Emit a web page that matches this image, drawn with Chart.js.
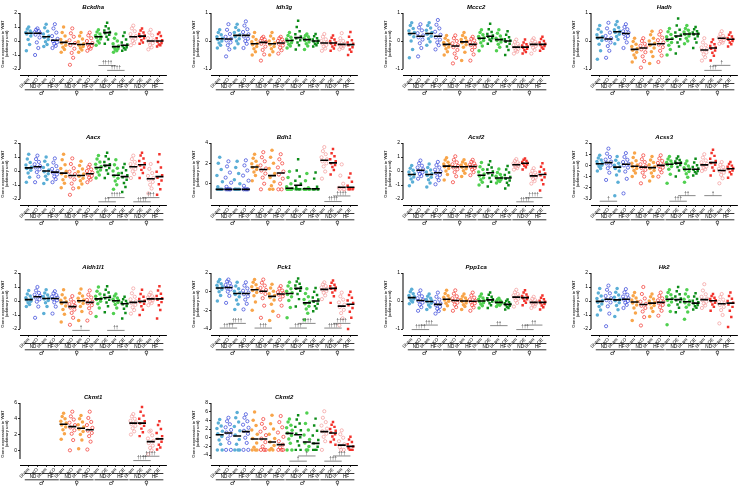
<!DOCTYPE html>
<html>
<head>
<meta charset="utf-8">
<script src="https://cdn.jsdelivr.net/npm/chart.js@4.4.1/dist/chart.umd.min.js"></script>
<style>
  body { margin: 0; background: #fff; width: 743px; height: 487px; overflow: hidden; position: relative; }
  .panel { position: absolute; width: 172px; height: 97px; }
</style>
</head>
<body>
<script>
// Group labels (16 groups per panel)
const tickLabels = ['Sham','KO','Sham','KO','Sham','KO','Sham','KO','Sham','OE','Sham','OE','Sham','OE','Sham','OE'];
const dietLabels = ['ND','HF','ND','HF','ND','HF','ND','HF'];
const sexLabels = ['♂','♀','♂','♀'];

const genes = ['Bckdha','Idh3g','Mccc2','Hadh','Aacx','Bdh1','Acsf2','Acss3','Aldh1l1','Pck1','Ppp1ca','Hk2','Ckmt1','Ckmt2'];
const yTop    = [2, 1, 1, 1, 2, 4, 2, 2, 2, 2, 1, 2, 6, 8];
const yBottom = [-2, -1, -1, -1, -2, -1.5, -2, -3, -2, -4, -1, -2, -1.1, -4.9];
const yStep   = [1, 1, 1, 1, 1, 2, 1, 1, 1, 2, 1, 1, 2, 2];

// ---- Bckdha
const bckdhaMean = [0.55,0.55,0.3,0.05,-0.1,-0.2,-0.25,-0.2,0.3,0.6,-0.4,-0.3,0.3,0.35,0,0];
const bckdhaPts = [
  [1.0,0.85,0.72,0.62,0.57,0.5,0.35,0.1,-0.25,-0.7],
  [0.9,0.8,0.7,0.62,0.55,0.45,0.25,-0.1,-0.5,-1.0],
  [1.2,0.95,0.7,0.5,0.35,0.25,0.1,-0.05,-0.25,-0.4],
  [1.2,0.9,0.6,0.35,0.15,0.0,-0.1,-0.2,-0.35,-0.5],
  [1.0,0.6,0.35,0.1,-0.05,-0.15,-0.3,-0.45,-0.6,-0.8],
  [0.9,0.55,0.3,0.05,-0.15,-0.3,-0.55,-0.85,-1.2,-1.7],
  [0.6,0.35,0.15,-0.05,-0.2,-0.3,-0.4,-0.5,-0.65,-0.8],
  [0.6,0.4,0.2,0.0,-0.15,-0.25,-0.35,-0.45,-0.55,-0.7],
  [0.8,0.65,0.5,0.4,0.3,0.25,0.15,0.0,-0.15,-0.3],
  [1.3,1.05,0.9,0.75,0.65,0.55,0.45,0.3,0.1,-0.2],
  [0.5,0.2,0.0,-0.2,-0.35,-0.45,-0.55,-0.6,-0.7,-0.8],
  [0.6,0.35,0.1,-0.1,-0.25,-0.35,-0.45,-0.5,-0.6,-0.7],
  [1.1,0.9,0.7,0.5,0.35,0.25,0.15,0.0,-0.15,-0.3],
  [0.9,0.75,0.6,0.5,0.4,0.3,0.2,0.05,-0.1,-0.2],
  [0.8,0.6,0.4,0.2,0.05,-0.05,-0.15,-0.3,-0.45,-0.6],
  [0.6,0.5,0.35,0.2,0.05,-0.05,-0.15,-0.25,-0.3,-0.4]
];
const bckdhaSig = [[9,11,-1.75,'††††'],[10,12,-2.1,'††††']];

// ---- Idh3g
const idh3gMean = [0.08,0.07,0.2,0.2,-0.1,-0.05,-0.1,-0.07,0.02,0.12,0.05,0,-0.07,-0.07,-0.12,-0.13];
const idh3gPts = [
  [0.4,0.3,0.22,0.15,0.1,0.05,0.0,-0.07,-0.15,-0.25],
  [0.6,0.4,0.25,0.15,0.08,0.02,-0.05,-0.15,-0.3,-0.55],
  [0.6,0.48,0.38,0.3,0.22,0.15,0.08,0.0,-0.1,-0.25],
  [0.7,0.55,0.42,0.32,0.24,0.16,0.08,0.0,-0.1,-0.25],
  [0.3,0.15,0.05,-0.03,-0.08,-0.13,-0.2,-0.28,-0.38,-0.5],
  [0.15,0.1,0.05,0.0,-0.04,-0.1,-0.2,-0.32,-0.48,-0.7],
  [0.3,0.18,0.08,0.0,-0.07,-0.13,-0.2,-0.28,-0.38,-0.5],
  [0.15,0.1,0.05,0.0,-0.05,-0.1,-0.16,-0.24,-0.33,-0.45],
  [0.3,0.2,0.13,0.07,0.03,-0.01,-0.06,-0.12,-0.18,-0.25],
  [0.72,0.5,0.35,0.24,0.16,0.1,0.03,-0.05,-0.15,-0.3],
  [0.25,0.2,0.15,0.1,0.06,0.02,-0.04,-0.1,-0.18,-0.3],
  [0.25,0.17,0.1,0.05,0.01,-0.02,-0.06,-0.1,-0.15,-0.2],
  [0.25,0.15,0.06,0.0,-0.05,-0.09,-0.14,-0.2,-0.27,-0.35],
  [0.2,0.12,0.05,0.0,-0.05,-0.09,-0.14,-0.2,-0.27,-0.35],
  [0.28,0.1,0.0,-0.05,-0.1,-0.13,-0.17,-0.21,-0.25,-0.3],
  [0.32,0.15,0.03,-0.05,-0.1,-0.15,-0.22,-0.3,-0.38,-0.5]
];
const idh3gSig = [];

// ---- Mccc2
const mccc2Mean = [0.27,0.17,0.27,0.17,-0.12,-0.18,-0.03,-0.12,0.1,0.17,0.05,0,-0.22,-0.22,-0.12,-0.12];
const mccc2Pts = [
  [0.65,0.55,0.45,0.37,0.3,0.24,0.15,0.0,-0.3,-0.6],
  [0.6,0.48,0.38,0.28,0.2,0.13,0.05,-0.08,-0.25,-0.55],
  [0.65,0.55,0.46,0.38,0.3,0.24,0.17,0.08,-0.03,-0.15],
  [0.75,0.58,0.45,0.33,0.22,0.13,0.05,-0.05,-0.15,-0.3],
  [0.2,0.1,0.02,-0.05,-0.1,-0.15,-0.21,-0.28,-0.38,-0.5],
  [0.2,0.1,0.0,-0.08,-0.15,-0.22,-0.32,-0.45,-0.6,-0.8],
  [0.3,0.2,0.12,0.05,0.0,-0.06,-0.13,-0.22,-0.4,-0.7],
  [0.15,0.08,0.02,-0.04,-0.1,-0.15,-0.22,-0.32,-0.48,-0.7],
  [0.4,0.3,0.22,0.16,0.12,0.08,0.02,-0.06,-0.18,-0.35],
  [0.62,0.42,0.32,0.25,0.2,0.15,0.1,0.05,0.0,-0.1],
  [0.4,0.28,0.18,0.1,0.06,0.02,-0.04,-0.12,-0.22,-0.35],
  [0.35,0.22,0.13,0.06,0.02,-0.03,-0.1,-0.2,-0.32,-0.5],
  [0.05,-0.03,-0.1,-0.15,-0.2,-0.24,-0.28,-0.33,-0.38,-0.45],
  [0.05,-0.05,-0.12,-0.16,-0.2,-0.24,-0.28,-0.33,-0.39,-0.45],
  [0.1,0.03,-0.03,-0.08,-0.11,-0.14,-0.18,-0.24,-0.32,-0.45],
  [0.15,0.07,0.0,-0.05,-0.1,-0.14,-0.18,-0.23,-0.28,-0.35]
];
const mccc2Sig = [];

// ---- Hadh
const hadhMean = [0.12,0.07,0.33,0.27,-0.3,-0.25,-0.12,-0.1,0.06,0.18,0.25,0.25,-0.32,-0.25,0.1,0.06];
const hadhPts = [
  [0.55,0.42,0.32,0.22,0.15,0.1,0.02,-0.12,-0.35,-0.65],
  [0.65,0.45,0.3,0.18,0.1,0.04,-0.05,-0.18,-0.35,-0.6],
  [0.7,0.58,0.48,0.4,0.35,0.3,0.24,0.16,0.05,-0.1],
  [0.6,0.5,0.42,0.35,0.3,0.25,0.18,0.1,-0.05,-0.25],
  [0.1,-0.02,-0.12,-0.2,-0.27,-0.33,-0.4,-0.5,-0.6,-0.75],
  [0.1,0.0,-0.1,-0.17,-0.23,-0.3,-0.4,-0.55,-0.72,-0.95],
  [0.35,0.22,0.1,0.0,-0.08,-0.15,-0.25,-0.38,-0.55,-0.8],
  [0.35,0.23,0.12,0.03,-0.05,-0.13,-0.22,-0.35,-0.52,-0.75],
  [0.45,0.33,0.23,0.15,0.09,0.03,-0.05,-0.15,-0.3,-0.5],
  [0.8,0.55,0.4,0.3,0.22,0.15,0.06,-0.05,-0.2,-0.45],
  [0.55,0.45,0.38,0.32,0.27,0.23,0.18,0.1,0.0,-0.1],
  [0.5,0.42,0.35,0.3,0.27,0.23,0.17,0.08,-0.05,-0.25],
  [0.1,-0.05,-0.15,-0.23,-0.29,-0.35,-0.41,-0.48,-0.58,-0.7],
  [0.05,-0.04,-0.12,-0.18,-0.23,-0.28,-0.34,-0.42,-0.53,-0.7],
  [0.35,0.25,0.18,0.13,0.1,0.07,0.03,-0.02,-0.06,-0.1],
  [0.3,0.22,0.16,0.11,0.07,0.04,0.0,-0.05,-0.12,-0.2]
];
const hadhSig = [[13,15,-1.05,'†††'],[14,16,-0.87,'†']];

// ---- Aacx
const aacxMean = [0.22,0.3,0,-0.08,-0.15,-0.32,-0.32,-0.2,0.25,0.4,-0.3,-0.4,0.3,0.45,-0.55,-0.4];
const aacxPts = [
  [1.2,0.85,0.6,0.42,0.28,0.18,0.05,-0.15,-0.45,-0.8],
  [1.1,0.85,0.65,0.48,0.35,0.25,0.12,-0.08,-0.4,-0.8],
  [1.0,0.7,0.45,0.25,0.08,-0.05,-0.2,-0.38,-0.6,-0.9],
  [0.9,0.6,0.35,0.15,0.0,-0.12,-0.25,-0.4,-0.58,-0.8],
  [1.2,0.8,0.45,0.18,-0.02,-0.2,-0.4,-0.62,-0.88,-1.2],
  [0.9,0.5,0.2,-0.05,-0.22,-0.4,-0.6,-0.9,-1.25,-1.7],
  [0.7,0.4,0.15,-0.05,-0.22,-0.38,-0.52,-0.7,-0.92,-1.2],
  [0.45,0.28,0.12,0.0,-0.12,-0.24,-0.35,-0.48,-0.62,-0.8],
  [1.1,0.85,0.65,0.48,0.33,0.2,0.08,-0.08,-0.28,-0.5],
  [1.3,1.05,0.85,0.65,0.48,0.35,0.22,0.05,-0.2,-0.5],
  [0.8,0.45,0.2,0.0,-0.18,-0.35,-0.52,-0.72,-0.98,-1.3],
  [0.5,0.25,0.05,-0.15,-0.3,-0.45,-0.62,-0.85,-1.15,-1.5],
  [1.1,0.85,0.65,0.5,0.38,0.26,0.14,-0.02,-0.22,-0.5],
  [1.3,1.1,0.9,0.72,0.55,0.4,0.25,0.08,-0.15,-0.5],
  [0.5,0.15,-0.15,-0.35,-0.5,-0.62,-0.78,-0.98,-1.25,-1.6],
  [1.2,0.65,0.25,-0.05,-0.3,-0.48,-0.68,-0.95,-1.3,-1.7]
];
const aacxSig = [[9,11,-2.2,'††'],[10,12,-1.9,'††††'],[13,15,-2.2,'††††'],[14,16,-1.9,'†††']];

// ---- Bdh1
const bdh1Mean = [-0.55,-0.55,-0.55,-0.55,1.65,1.4,0.8,1.05,-0.45,-0.15,-0.5,-0.5,2.3,2.05,-0.35,-0.35];
const bdh1Pts = [
  [2.6,2.0,1.4,0.8,0.2,-0.3,-0.55,-0.55,-0.55,-0.55],
  [2.2,1.7,1.1,0.6,0.1,-0.3,-0.55,-0.55,-0.55,-0.55],
  [2.2,1.6,1.0,0.4,0.0,-0.55,-0.55,-0.55,-0.55,-0.55],
  [2.3,1.8,1.3,0.8,0.3,-0.2,-0.55,-0.55,-0.55,-0.55],
  [2.9,2.5,2.2,1.95,1.75,1.6,1.4,1.15,0.8,0.3],
  [3.1,2.6,2.2,1.8,1.5,1.3,1.0,0.6,0.0,-0.55],
  [3.3,2.6,2.0,1.5,1.0,0.6,0.2,-0.2,-0.55,-0.55],
  [2.9,2.4,2.0,1.6,1.2,0.9,0.5,0.0,-0.55,-0.55],
  [1.2,0.6,0.0,-0.3,-0.5,-0.55,-0.55,-0.55,-0.55,-0.55],
  [2.4,1.3,0.7,0.3,0.0,-0.3,-0.55,-0.55,-0.55,-0.55],
  [1.0,0.3,-0.4,-0.55,-0.55,-0.55,-0.55,-0.55],
  [1.1,0.5,-0.3,-0.55,-0.55,-0.55,-0.55,-0.55],
  [3.6,3.2,2.9,2.6,2.4,2.2,2.0,1.7,1.2,0.5],
  [3.4,3.0,2.7,2.4,2.2,2.0,1.85,1.65,1.35,0.9],
  [1.9,0.8,0.0,-0.4,-0.55,-0.55,-0.55],
  [1.0,0.6,0.2,-0.2,-0.45,-0.55,-0.55,-0.55]
];
const bdh1Sig = [[14,16,-1.2,'††††'],[13,15,-1.75,'††††']];

// ---- Acsf2
const acsf2Mean = [-0.25,0.05,-0.25,-0.12,0.35,0.3,0.3,0.32,-0.3,-0.12,-0.5,-0.5,0.45,0.55,-0.35,-0.25];
const acsf2Pts = [
  [0.4,0.2,0.05,-0.08,-0.2,-0.3,-0.42,-0.58,-0.78,-1.05],
  [0.75,0.55,0.38,0.25,0.12,0.0,-0.1,-0.22,-0.36,-0.55],
  [0.5,0.25,0.08,-0.08,-0.2,-0.32,-0.45,-0.62,-0.85,-1.15],
  [0.65,0.42,0.25,0.1,-0.03,-0.15,-0.28,-0.45,-0.66,-0.95],
  [0.95,0.78,0.62,0.5,0.4,0.3,0.18,0.0,-0.25,-0.65],
  [1.05,0.8,0.62,0.48,0.36,0.25,0.12,-0.08,-0.38,-0.8],
  [0.8,0.65,0.52,0.42,0.34,0.26,0.16,0.02,-0.16,-0.4],
  [0.8,0.66,0.54,0.45,0.37,0.3,0.22,0.1,-0.08,-0.3],
  [0.6,0.3,0.1,-0.08,-0.22,-0.35,-0.48,-0.62,-0.8,-1.0],
  [0.7,0.45,0.25,0.1,-0.04,-0.16,-0.3,-0.5,-0.76,-1.1],
  [0.15,-0.1,-0.25,-0.38,-0.46,-0.53,-0.6,-0.67,-0.75,-0.85],
  [0.35,0.1,-0.1,-0.28,-0.42,-0.55,-0.68,-0.84,-1.02,-1.25],
  [0.85,0.72,0.62,0.54,0.48,0.42,0.36,0.28,0.2,0.1],
  [0.9,0.8,0.72,0.64,0.58,0.52,0.46,0.38,0.26,0.1],
  [0.2,0.02,-0.12,-0.22,-0.3,-0.38,-0.47,-0.58,-0.72,-0.9],
  [0.55,0.3,0.1,-0.05,-0.18,-0.3,-0.45,-0.65,-0.95,-1.4]
];
const acsf2Sig = [[13,15,-2.2,'††††'],[14,16,-1.9,'††††']];

// ---- Acss3
const acss3Mean = [0.15,0.25,-0.15,0.1,-0.07,-0.15,-0.2,0,0.1,0.2,-0.35,-0.35,0.05,0.25,-0.45,-0.3];
const acss3Pts = [
  [0.9,0.65,0.48,0.34,0.22,0.12,0.02,-0.1,-0.28,-0.5],
  [1.5,1.05,0.75,0.52,0.34,0.18,0.0,-0.25,-0.65,-1.3],
  [0.8,0.45,0.2,0.02,-0.12,-0.28,-0.5,-0.85,-1.5,-2.7],
  [1.1,0.75,0.5,0.3,0.14,0.0,-0.2,-0.55,-1.2,-2.5],
  [1.1,0.7,0.42,0.2,0.03,-0.12,-0.28,-0.45,-0.68,-1.0],
  [0.9,0.55,0.3,0.1,-0.08,-0.22,-0.4,-0.65,-1.0,-1.6],
  [0.8,0.48,0.25,0.05,-0.12,-0.28,-0.45,-0.68,-0.98,-1.4],
  [0.9,0.62,0.4,0.22,0.07,-0.06,-0.2,-0.38,-0.62,-1.0],
  [0.8,0.58,0.4,0.26,0.15,0.05,-0.1,-0.35,-0.8,-1.6],
  [0.8,0.62,0.48,0.36,0.26,0.16,0.04,-0.15,-0.45,-1.0],
  [0.4,0.15,-0.05,-0.2,-0.32,-0.42,-0.55,-0.75,-1.05,-1.5],
  [0.6,0.25,0.02,-0.15,-0.28,-0.4,-0.5,-0.6,-0.72,-0.9],
  [1.0,0.7,0.45,0.28,0.14,0.02,-0.1,-0.22,-0.35,-0.5],
  [1.4,1.1,0.85,0.6,0.4,0.22,0.05,-0.18,-0.48,-0.9],
  [0.3,0.05,-0.15,-0.3,-0.42,-0.52,-0.65,-0.85,-1.15,-1.6],
  [0.3,0.12,-0.02,-0.13,-0.23,-0.33,-0.45,-0.6,-0.8,-1.1]
];
const acss3Sig = [[1,3,-3.2,'†'],[9,11,-3.2,'†††'],[10,12,-2.7,'††'],[13,15,-2.7,'†']];

// ---- Aldh1l1
const aldh1l1Mean = [0.1,0.3,0.18,0.18,-0.1,-0.4,0.02,-0.1,0.15,0.25,0.02,-0.2,-0.1,-0.03,0.15,0.15];
const aldh1l1Pts = [
  [0.75,0.5,0.35,0.24,0.15,0.07,-0.02,-0.12,-0.25,-0.4],
  [1.0,0.75,0.58,0.45,0.35,0.25,0.12,-0.05,-0.4,-1.2],
  [0.8,0.58,0.43,0.32,0.22,0.14,0.04,-0.12,-0.4,-0.9],
  [0.7,0.55,0.42,0.32,0.24,0.15,0.05,-0.1,-0.4,-0.9],
  [0.8,0.45,0.22,0.06,-0.06,-0.18,-0.35,-0.6,-0.95,-1.5],
  [0.35,0.1,-0.08,-0.22,-0.35,-0.47,-0.62,-0.85,-1.2,-1.7],
  [0.85,0.55,0.35,0.2,0.08,-0.04,-0.18,-0.4,-0.75,-1.4],
  [0.75,0.45,0.25,0.08,-0.05,-0.16,-0.3,-0.52,-0.85,-1.4],
  [1.0,0.7,0.5,0.34,0.2,0.1,-0.02,-0.2,-0.5,-1.1],
  [1.05,0.8,0.6,0.45,0.32,0.2,0.08,-0.1,-0.38,-0.8],
  [0.5,0.35,0.22,0.12,0.05,-0.02,-0.1,-0.25,-0.5,-0.9],
  [0.3,0.12,0.0,-0.1,-0.17,-0.24,-0.35,-0.55,-0.85,-1.25],
  [0.9,0.55,0.3,0.12,-0.02,-0.14,-0.28,-0.45,-0.65,-0.9],
  [0.8,0.5,0.3,0.15,0.02,-0.08,-0.2,-0.38,-0.62,-1.0],
  [0.6,0.45,0.34,0.25,0.18,0.12,0.05,-0.04,-0.15,-0.3],
  [1.05,0.75,0.52,0.35,0.2,0.08,-0.08,-0.3,-0.65,-1.25]
];
const aldh1l1Sig = [[6,8,-2.1,'†'],[10,12,-2.1,'††']];

// ---- Pck1
const pck1Mean = [0.4,0.45,-0.2,-0.2,0.2,0.05,-0.5,-0.25,-0.2,0.35,-1.2,-1.0,0.25,0.35,-1.55,-1.35];
const pck1Pts = [
  [1.3,1.05,0.85,0.68,0.52,0.38,0.22,0.0,-0.4,-1.0],
  [1.3,1.1,0.9,0.72,0.56,0.42,0.25,0.0,-0.45,-1.2],
  [1.0,0.6,0.3,0.05,-0.12,-0.3,-0.55,-0.9,-1.35,-1.9],
  [1.0,0.65,0.35,0.1,-0.1,-0.28,-0.5,-0.85,-1.3,-1.9],
  [1.3,1.0,0.75,0.52,0.32,0.12,-0.1,-0.45,-1.1,-2.0],
  [1.3,0.95,0.65,0.4,0.18,-0.02,-0.25,-0.7,-1.5,-2.8],
  [0.8,0.4,0.05,-0.22,-0.42,-0.62,-0.9,-1.35,-2.1,-3.1],
  [0.6,0.35,0.12,-0.05,-0.18,-0.32,-0.5,-0.85,-1.5,-2.6],
  [1.0,0.6,0.3,0.05,-0.12,-0.3,-0.55,-0.95,-1.7,-2.8],
  [1.4,1.1,0.85,0.65,0.48,0.3,0.1,-0.25,-0.8,-1.6],
  [0.3,-0.2,-0.55,-0.85,-1.1,-1.3,-1.55,-1.85,-2.3,-3.0],
  [0.4,0.0,-0.35,-0.62,-0.85,-1.08,-1.3,-1.55,-1.8,-2.1],
  [1.0,0.78,0.6,0.45,0.32,0.2,0.06,-0.12,-0.4,-0.8],
  [1.2,0.95,0.75,0.58,0.44,0.3,0.14,-0.1,-0.5,-1.2],
  [-0.1,-0.5,-0.85,-1.15,-1.4,-1.65,-1.95,-2.3,-2.85,-3.6],
  [0.0,-0.35,-0.65,-0.95,-1.2,-1.45,-1.75,-2.15,-2.8,-4.0]
];
const pck1Sig = [[1,3,-3.9,'††††'],[2,4,-3.4,'††††'],[5,7,-3.9,'†††'],[9,11,-3.9,'†††'],[10,12,-3.4,'††††'],[13,15,-3.9,'††††'],[14,16,-3.4,'††††']];

// ---- Ppp1ca
const ppp1caMean = [0.12,0.02,-0.02,-0.12,0.06,0.02,0,-0.01,0,0.04,-0.05,-0.12,0.14,0.12,-0.05,-0.05];
const ppp1caPts = [
  [0.42,0.33,0.26,0.2,0.15,0.11,0.07,0.02,-0.04,-0.1],
  [0.38,0.26,0.17,0.1,0.05,0.0,-0.06,-0.13,-0.22,-0.35],
  [0.25,0.17,0.1,0.05,0.01,-0.03,-0.08,-0.14,-0.21,-0.3],
  [0.3,0.15,0.05,-0.03,-0.09,-0.15,-0.21,-0.28,-0.36,-0.45],
  [0.38,0.27,0.19,0.13,0.08,0.04,-0.01,-0.08,-0.17,-0.3],
  [0.38,0.26,0.17,0.1,0.05,0.0,-0.06,-0.13,-0.22,-0.35],
  [0.25,0.17,0.11,0.06,0.02,-0.02,-0.07,-0.13,-0.2,-0.3],
  [0.3,0.2,0.12,0.06,0.01,-0.03,-0.08,-0.15,-0.23,-0.35],
  [0.25,0.17,0.11,0.06,0.02,-0.02,-0.06,-0.11,-0.17,-0.25],
  [0.3,0.22,0.15,0.1,0.06,0.02,-0.02,-0.08,-0.15,-0.25],
  [0.1,0.05,0.01,-0.02,-0.04,-0.06,-0.09,-0.12,-0.15,-0.2],
  [0.05,0.0,-0.04,-0.08,-0.11,-0.14,-0.17,-0.21,-0.25,-0.3],
  [0.4,0.31,0.25,0.2,0.16,0.12,0.08,0.02,-0.07,-0.2],
  [0.38,0.3,0.23,0.18,0.14,0.1,0.06,0.01,-0.06,-0.15],
  [0.15,0.08,0.03,-0.01,-0.04,-0.07,-0.1,-0.14,-0.19,-0.25],
  [0.2,0.12,0.06,0.01,-0.03,-0.07,-0.11,-0.16,-0.22,-0.3]
];
const ppp1caSig = [[1,3,-1.02,'††††'],[2,4,-0.86,'†††'],[10,12,-0.88,'††'],[13,15,-1.02,'†††'],[14,16,-0.86,'††']];

// ---- Hk2
const hk2Mean = [-0.03,0.12,0.08,0.12,-0.07,-0.25,-0.15,-0.1,0.12,0.1,-0.05,-0.15,0.1,0.02,-0.2,-0.15];
const hk2Pts = [
  [0.9,0.58,0.35,0.17,0.03,-0.09,-0.22,-0.4,-0.65,-1.0],
  [1.1,0.8,0.55,0.36,0.2,0.06,-0.1,-0.38,-0.9,-1.8],
  [0.9,0.62,0.42,0.26,0.13,0.02,-0.12,-0.32,-0.62,-1.1],
  [0.85,0.62,0.45,0.32,0.2,0.1,0.0,-0.12,-0.28,-0.5],
  [0.6,0.38,0.22,0.08,-0.04,-0.14,-0.28,-0.5,-0.85,-1.4],
  [1.0,0.5,0.18,-0.05,-0.2,-0.34,-0.5,-0.75,-1.15,-1.75],
  [0.5,0.3,0.14,0.0,-0.1,-0.2,-0.32,-0.5,-0.75,-1.1],
  [0.6,0.36,0.19,0.05,-0.06,-0.16,-0.28,-0.45,-0.7,-1.05],
  [0.8,0.6,0.44,0.3,0.18,0.06,-0.08,-0.3,-0.75,-1.7],
  [1.0,0.7,0.48,0.32,0.18,0.05,-0.08,-0.25,-0.48,-0.8],
  [0.8,0.5,0.3,0.13,0.0,-0.12,-0.26,-0.45,-0.78,-1.3],
  [0.55,0.32,0.15,0.02,-0.08,-0.18,-0.28,-0.38,-0.48,-0.6],
  [1.2,0.75,0.48,0.3,0.17,0.06,-0.05,-0.18,-0.32,-0.5],
  [0.5,0.36,0.24,0.14,0.06,-0.02,-0.12,-0.25,-0.42,-0.7],
  [0.5,0.28,0.1,-0.05,-0.16,-0.28,-0.42,-0.65,-1.0,-1.6],
  [0.6,0.35,0.16,0.0,-0.12,-0.25,-0.42,-0.7,-1.15,-1.85]
];
const hk2Sig = [];

// ---- Ckmt1 (no male data)
const ckmt1Mean = [null,null,null,null,3.3,3.0,2.8,2.6,null,null,null,null,3.45,3.45,1.1,1.45];
const ckmt1Pts = [
  [],[],[],[],
  [4.7,4.3,4.0,3.7,3.45,3.2,2.95,2.6,2.1,1.4],
  [4.9,4.3,3.9,3.5,3.2,2.9,2.55,2.1,1.3,0.0],
  [4.4,4.0,3.6,3.25,2.95,2.7,2.4,2.0,1.3,0.2],
  [4.9,4.1,3.6,3.2,2.85,2.5,2.2,1.8,1.1,0.1],
  [],[],[],[],
  [4.6,4.3,4.0,3.75,3.55,3.35,3.1,2.8,2.4,2.0],
  [5.5,4.9,4.4,4.0,3.7,3.4,3.1,2.75,2.3,1.8],
  [2.5,2.4,1.9,1.5,1.2,0.9,0.6,0.3,0.0,-0.5],
  [3.7,3.2,2.7,2.2,1.8,1.45,1.1,0.7,0.35,0.1]
];
const ckmt1Sig = [[14,16,-0.75,'††††'],[13,15,-1.3,'††††']];

// ---- Ckmt2
const ckmt2Mean = [0.7,1.1,0.4,1.4,-0.3,-0.3,-1.0,-1.6,1.0,0.7,-1.0,-1.3,1.4,1.1,-1.7,-2.0];
const ckmt2Pts = [
  [4.2,3.4,2.7,2.1,1.5,0.9,0.3,-0.5,-1.5,-2.8,-2.8],
  [4.6,3.8,3.1,2.4,1.8,1.2,0.6,-0.2,-1.2,-2.8,-2.8],
  [5.8,4.6,3.6,2.6,1.6,0.6,-0.4,-1.5,-2.8,-2.8,-2.8],
  [5.4,4.6,3.8,3.0,2.3,1.6,0.9,0.0,-1.2,-2.8,-2.8],
  [5.9,4.0,2.8,1.8,0.8,-0.2,-1.2,-2.2,-2.8,-2.8,-2.8],
  [4.3,3.2,2.2,1.4,0.6,-0.2,-1.0,-2.0,-2.8,-2.8,-2.8],
  [5.2,3.2,2.0,0.8,-0.2,-1.0,-1.8,-2.5,-2.8,-2.8],
  [5.0,3.6,2.4,1.2,0.2,-0.8,-1.6,-2.3,-2.8,-2.8,-2.8],
  [4.3,3.6,2.9,2.3,1.7,1.1,0.5,-0.3,-1.3,-2.8,-2.8],
  [5.2,4.2,3.3,2.5,1.7,0.9,0.1,-0.8,-1.8,-2.8,-2.8],
  [5.7,3.3,1.8,0.6,-0.4,-1.2,-2.0,-2.8,-2.8],
  [4.4,2.8,1.6,0.5,-0.5,-1.3,-2.1,-2.8,-2.8,-2.8],
  [6.1,4.6,3.6,2.8,2.1,1.5,0.9,0.2,-0.8,-2.8],
  [3.6,3.0,2.5,2.0,1.6,1.2,0.8,0.3,-0.4,-1.0,-1.6],
  [1.7,0.8,0.0,-0.8,-1.5,-2.2,-2.8,-2.8],
  [0.2,-0.4,-1.0,-1.5,-2.0,-2.4,-2.8,-2.8,-2.8]
];
const ckmt2Sig = [[10,12,-4.2,'†'],[9,11,-5.4,'†'],[14,16,-4.2,'†††'],[13,15,-5.4,'†††']];

const allMeans = [bckdhaMean,idh3gMean,mccc2Mean,hadhMean,aacxMean,bdh1Mean,acsf2Mean,acss3Mean,aldh1l1Mean,pck1Mean,ppp1caMean,hk2Mean,ckmt1Mean,ckmt2Mean];
const allPts = [bckdhaPts,idh3gPts,mccc2Pts,hadhPts,aacxPts,bdh1Pts,acsf2Pts,acss3Pts,aldh1l1Pts,pck1Pts,ppp1caPts,hk2Pts,ckmt1Pts,ckmt2Pts];
const allSig = [bckdhaSig,idh3gSig,mccc2Sig,hadhSig,aacxSig,bdh1Sig,acsf2Sig,acss3Sig,aldh1l1Sig,pck1Sig,ppp1caSig,hk2Sig,ckmt1Sig,ckmt2Sig];

// styles per group
const LB = '#5aaed6', BL = '#2f3fd8', OR = '#f8a54a', RD = '#f2322b', LG = '#50d050', DG = '#0c8c18', PK = '#f49a9a';
const groupColor = [LB,BL,LB,BL,OR,RD,OR,RD,LG,DG,LG,DG,PK,RD,PK,RD];
const groupOpen  = [false,true,false,true,false,true,false,true,false,false,false,false,true,false,true,false];
const groupShape = ['circle','circle','circle','circle','circle','circle','circle','circle','circle','rect','circle','rect','circle','rect','circle','rect'];
const jit = [0, -0.16, 0.17, -0.32, 0.31, -0.22, 0.24, -0.07, 0.1, -0.27, 0.28];

const colX = [0, 191, 383, 571];
const rowY = [0, 130, 260, 390];
const FONT = '"Liberation Sans", Arial, sans-serif';

// Axis lines, title, ND/HF + sex rows and significance brackets
const gpPlugin = {
  id: 'gp',
  afterDraw(chart, args, o) {
    const ctx = chart.ctx, ca = chart.chartArea;
    const xs = chart.scales.x, ys = chart.scales.y;
    const hline = (x0, x1, y) => { ctx.beginPath(); ctx.moveTo(x0, y); ctx.lineTo(x1, y); ctx.stroke(); };
    ctx.save();
    ctx.strokeStyle = '#000';
    ctx.lineWidth = 1;
    ctx.beginPath();
    ctx.moveTo(ca.left, ys.getPixelForValue(o.top));
    ctx.lineTo(ca.left, ys.getPixelForValue(o.bottom));
    ctx.stroke();

    ctx.fillStyle = '#000';
    ctx.textAlign = 'center';
    ctx.textBaseline = 'middle';
    ctx.font = 'italic bold 6px ' + FONT;
    ctx.fillText(o.title, (ca.left + ca.right) / 2, ca.top - 6);

    const base = ca.bottom;
    const half = (xs.getPixelForValue(2) - xs.getPixelForValue(1)) * 0.45;
    ctx.font = '4.6px ' + FONT;
    ctx.lineWidth = 0.8;
    dietLabels.forEach((t, i) => {
      const x0 = xs.getPixelForValue(2 * i + 1) - half, x1 = xs.getPixelForValue(2 * i + 2) + half;
      hline(x0, x1, base + 8.5);
      ctx.fillText(t, (x0 + x1) / 2, base + 11.6);
    });
    ctx.font = '6px "DejaVu Sans", sans-serif';
    sexLabels.forEach((t, i) => {
      const x0 = xs.getPixelForValue(4 * i + 1) - half, x1 = xs.getPixelForValue(4 * i + 4) + half;
      hline(x0, x1, base + 14.8);
      ctx.fillText(t, (x0 + x1) / 2, base + 18.6);
    });

    ctx.strokeStyle = '#555';
    ctx.fillStyle = '#333';
    ctx.lineWidth = 0.7;
    ctx.font = '4.6px ' + FONT;
    o.sig.forEach(([a, b, v, t]) => {
      const y = ys.getPixelForValue(v);
      const x0 = xs.getPixelForValue(a), x1 = xs.getPixelForValue(b);
      hline(x0, x1, y);
      ctx.fillText(t, (x0 + x1) / 2, y - 2.4);
    });
    ctx.restore();
  }
};

genes.forEach((gene, p) => {
  const div = document.createElement('div');
  div.className = 'panel';
  div.style.left = colX[p % 4] + 'px';
  div.style.top = rowY[Math.floor(p / 4)] + 'px';
  const cv = document.createElement('canvas');
  div.appendChild(cv);
  document.body.appendChild(div);

  const top = yTop[p], bot = yBottom[p];
  const pad = (top - bot) * 6 / 56;

  const datasets = [{
    data: allMeans[p].map((m, i) => m === null ? null : { x: i + 1, y: m }).filter(d => d),
    pointStyle: 'line', pointRadius: 4, borderColor: '#000', borderWidth: 1.6
  }];
  allPts[p].forEach((vals, g) => {
    datasets.push({
      data: vals.map((v, i) => ({ x: g + 1 + jit[i % jit.length], y: v })),
      pointStyle: groupShape[g],
      pointRadius: groupOpen[g] ? 1.6 : 1.75,
      borderWidth: groupOpen[g] ? 0.7 : 0,
      borderColor: groupColor[g],
      backgroundColor: groupOpen[g] ? 'rgba(255,255,255,0)' : groupColor[g]
    });
  });

  new Chart(cv, {
    type: 'scatter',
    data: { datasets },
    options: {
      responsive: true,
      maintainAspectRatio: false,
      animation: false,
      devicePixelRatio: 1,
      layout: { padding: { top: 13, right: 2, left: 0, bottom: 0 } },
      plugins: {
        legend: { display: false },
        tooltip: { enabled: false },
        gp: { title: gene, top, bottom: bot, sig: allSig[p] }
      },
      scales: {
        x: {
          type: 'linear', min: 0, max: 16.8,
          afterBuildTicks: s => { s.ticks = tickLabels.map((_, i) => ({ value: i + 1 })); },
          afterFit: s => { s.height = 22; },
          border: { display: true, color: '#000', width: 1 },
          grid: { drawOnChartArea: false, drawTicks: true, tickLength: 2, color: '#000', lineWidth: 0.8 },
          ticks: {
            autoSkip: false, minRotation: 45, maxRotation: 45, padding: 0,
            color: '#000', font: { size: 4.6, family: FONT },
            callback: v => tickLabels[v - 1] || ''
          }
        },
        y: {
          min: bot - pad, max: top,
          afterBuildTicks: s => { s.ticks = s.ticks.filter(t => t.value >= bot - 1e-9 && t.value <= top + 1e-9); },
          afterFit: s => { s.width = 20; },
          border: { display: false },
          grid: { drawOnChartArea: false, drawTicks: true, tickLength: 2, color: '#000', lineWidth: 0.8 },
          ticks: { stepSize: yStep[p], includeBounds: false, padding: 1, color: '#000', font: { size: 5, family: FONT } },
          title: {
            display: true, text: ['Gene expression in WAT', '(arbitrary unit)'],
            color: '#000', font: { size: 4.3, family: FONT, lineHeight: 1.1 }, padding: 0
          }
        }
      }
    },
    plugins: [gpPlugin]
  });
});
</script>
</body>
</html>
